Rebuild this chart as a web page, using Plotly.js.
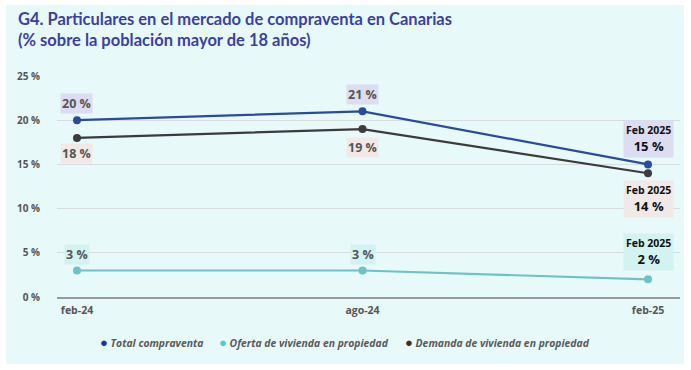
<!DOCTYPE html>
<html>
<head>
<meta charset="utf-8">
<script src="https://cdn.plot.ly/plotly-3.0.1.min.js"></script>
<style>
  html, body { margin:0; padding:0; background:#ffffff; }
  #bg { position:absolute; left:6px; top:5px; width:678px; height:359px; background:#e8f9fa; }
  #chart { position:absolute; left:0; top:0; width:691px; height:370px; }
</style>
</head>
<body>
<div id="bg"></div>
<div id="chart"></div>
<script>
// ---- data ----
const categories = ["feb-24", "ago-24", "feb-25"];
const seriesNames = ["Total compraventa", "Oferta de vivienda en propiedad", "Demanda de vivienda en propiedad"];
const totalValues = [20, 21, 15];
const ofertaValues = [3, 3, 2];
const demandaValues = [18, 19, 14];
const yTickValues = [0, 5, 10, 15, 20, 25];
const yTickLabels = ["0 %", "5 %", "10 %", "15 %", "20 %", "25 %"];
const lastLabel = "Feb 2025";

// ---- styling ----
const lineColors = ["#2a4b9e", "#6cc3c4", "#3b3b3b"];
const legendColors = ["#2a2f9e", "#3dd6c8", "#333333"];
const boxColors = ["#dcdcf2", "#d2f3ef", "#f1e9e7"];

const xs = categories.map((c, i) => i);

function lineTrace(vals, idx) {
  return {
    x: xs, y: vals, type: "scatter", mode: "lines+markers",
    name: seriesNames[idx], showlegend: false,
    line: { color: lineColors[idx], width: 2.2 },
    marker: { color: lineColors[idx], size: 8 },
    hoverinfo: "skip"
  };
}

const traces = [
  lineTrace(ofertaValues, 1),
  lineTrace(demandaValues, 2),
  lineTrace(totalValues, 0)
];

// plot area geometry in pixels
const L = 57, R = 680, T = 76, B = 297;
const px2paperX = p => (p - L) / (R - L);
const px2paperY = p => (B - p) / (B - T);

const annotations = [];
function valueLabel(xi, val, idx, shift) {
  annotations.push({
    x: xs[xi], y: val, xref: "x", yref: "y", showarrow: false,
    yshift: shift,
    text: "<b>" + val + " %</b>",
    font: { family: "Open Sans", size: 12.5, color: "#555555" },
    bgcolor: boxColors[idx], borderpad: 1
  });
}
function lastBox(val, idx, shift) {
  annotations.push({
    x: xs[xs.length - 1], y: val, xref: "x", yref: "y", showarrow: false,
    yshift: shift,
    text: "<b><span style='font-size:10.5px'>" + lastLabel + "</span><br>" + val + " %</b>",
    font: { family: "Open Sans", size: 13, color: "#111111" },
    bgcolor: boxColors[idx], borderpad: 2, align: "center"
  });
}
// first two points
for (let i = 0; i < 2; i++) {
  valueLabel(i, totalValues[i], 0, 17);
  valueLabel(i, demandaValues[i], 2, i === 0 ? -16 : -18);
  valueLabel(i, ofertaValues[i], 1, 16);
}
lastBox(totalValues[2], 0, 25);
lastBox(demandaValues[2], 2, -26);
lastBox(ofertaValues[2], 1, 27);

// custom legend (dot + italic text)
const legendDotX = [103, 222, 408];
seriesNames.forEach((n, i) => {
  annotations.push({
    x: px2paperX(legendDotX[i] - 5), y: px2paperY(342), xref: "paper", yref: "paper",
    xanchor: "left", yanchor: "middle", showarrow: false,
    text: "<span style='color:" + legendColors[i] + ";font-size:13px'>●</span> <b><i>" + n + "</i></b>",
    font: { family: "Open Sans", size: 10.4, color: "#5a5a5a" }
  });
});

const layout = {
  width: 691, height: 370,
  margin: { l: L, r: 691 - R, t: T, b: 370 - B },
  paper_bgcolor: "rgba(0,0,0,0)",
  plot_bgcolor: "rgba(0,0,0,0)",
  title: {
    text: "<b>G4. Particulares en el mercado de compraventa en Canarias<br>(% sobre la población mayor de 18 años)</b>",
    x: 18 / 691, xanchor: "left", xref: "container",
    y: 1 - 25 / 370, yanchor: "top", yref: "container",
    pad: { t: 0 },
    font: { family: "Lato", size: 16.5, color: "#3b3fa6" }
  },
  xaxis: {
    range: [-0.07, 2.112],
    tickvals: xs, ticktext: categories,
    showgrid: false, zeroline: false,
    showline: true, linecolor: "#9a9a9a", linewidth: 2,
    ticks: "", ticklabelstandoff: 2,
    tickfont: { family: "Open Sans", size: 10.5, color: "#555555", weight: "bold" },
    fixedrange: true
  },
  yaxis: {
    range: [0, 25],
    tickvals: yTickValues, ticktext: yTickLabels,
    showgrid: true, gridcolor: "#d9dcdc", gridwidth: 1,
    zeroline: false, showline: false,
    ticks: "", ticklabelstandoff: 16,
    tickfont: { family: "Open Sans", size: 10, color: "#555555", weight: "bold" },
    fixedrange: true
  },
  annotations: annotations,
  showlegend: false
};

Plotly.newPlot("chart", traces, layout, { displayModeBar: false, staticPlot: true });
</script>
</body>
</html>
